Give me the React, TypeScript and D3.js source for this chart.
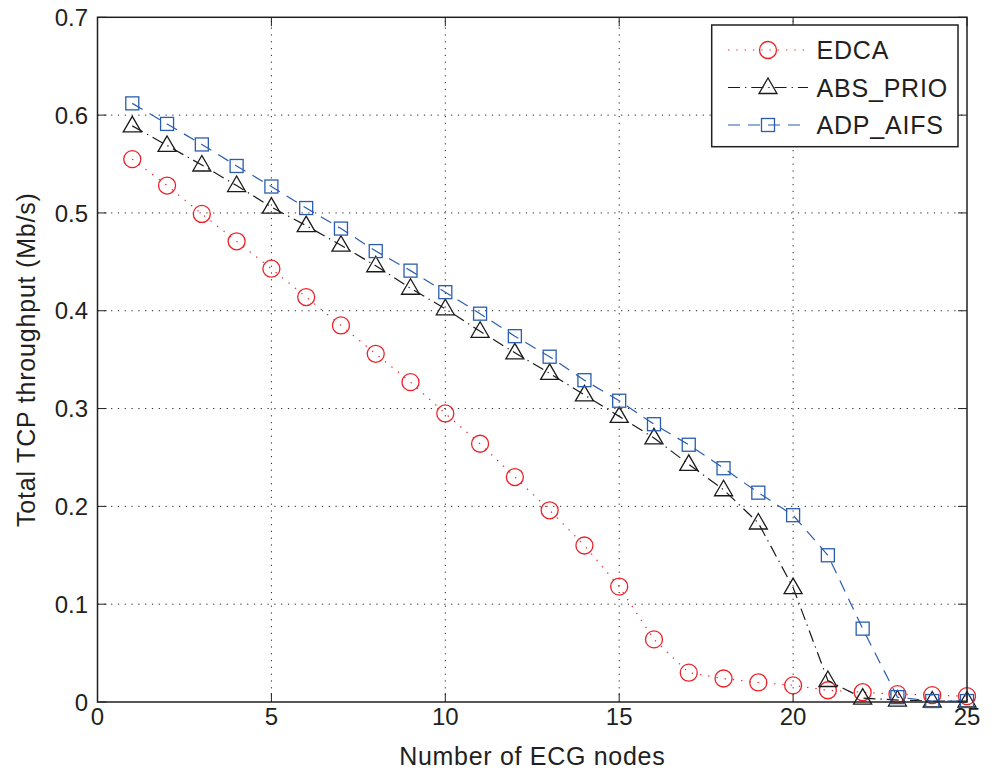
import React from 'react'
import * as d3 from 'd3'

// number of ECG nodes
const nodes = d3.range(1, 26)

const edca = [0.555, 0.528, 0.499, 0.471, 0.443, 0.414, 0.385, 0.356, 0.327, 0.295,
  0.264, 0.230, 0.196, 0.160, 0.118, 0.064, 0.030, 0.024, 0.020, 0.017,
  0.012, 0.010, 0.008, 0.007, 0.006]

const absPrio = [0.589, 0.569, 0.549, 0.528, 0.506, 0.487, 0.467, 0.446, 0.423, 0.402,
  0.379, 0.357, 0.336, 0.314, 0.292, 0.270, 0.243, 0.217, 0.183, 0.117,
  0.022, 0.004, 0.002, 0.001, 0.001]

const adpAifs = [0.612, 0.591, 0.570, 0.548, 0.527, 0.505, 0.484, 0.461, 0.441, 0.419,
  0.397, 0.374, 0.353, 0.329, 0.308, 0.284, 0.263, 0.239, 0.214, 0.191,
  0.150, 0.075, 0.005, 0.001, 0.001]

const xTicks = [0, 5, 10, 15, 20, 25]
const yTicks = [0, 0.1, 0.2, 0.3, 0.4, 0.5, 0.6, 0.7]

const seriesNames = ['EDCA', 'ABS_PRIO', 'ADP_AIFS']

const W = 995
const H = 772
const FONT = 'Liberation Sans, Arial, Helvetica, sans-serif'
const INK = '#231f20'

const x = d3.scaleLinear().domain([0, 25]).range([97.5, 967])
const y = d3.scaleLinear().domain([0, 0.7]).range([702, 17.3])

const series = [
  { name: seriesNames[0], vals: edca, color: '#ec2027', dash: '1.3,7', marker: 'circle' },
  { name: seriesNames[1], vals: absPrio, color: '#1a1a1a', dash: '12,5,1.3,5', marker: 'triangle' },
  { name: seriesNames[2], vals: adpAifs, color: '#2a5db0', dash: '12,8', marker: 'square' },
]

function Marker({ kind, cx, cy, color }) {
  if (kind === 'circle')
    return <circle cx={cx} cy={cy} r={8.5} fill="none" stroke={color} strokeWidth={1.3} />
  if (kind === 'square')
    return <rect x={cx - 6.5} y={cy - 6.5} width={13} height={13} fill="none" stroke={color} strokeWidth={1.3} />
  const p = [[cx, cy - 9.5], [cx - 9, cy + 6], [cx + 9, cy + 6]]
  return <polygon points={p.map(d => d.join(',')).join(' ')} fill="none" stroke={color} strokeWidth={1.3} />
}

export default function App() {
  const [x0, x1] = x.range()
  const [y0, y1] = y.range()
  const line = d3.line().x(d => x(d[0])).y(d => y(d[1]))

  return (
    <svg width={W} height={H} style={{ position: 'absolute', left: 0, top: 0, background: '#fff' }}
      fontFamily={FONT}>
      <rect width={W} height={H} fill="#fff" />

      {/* grid */}
      <g stroke={INK} strokeWidth={1} strokeDasharray="1.2,5.6">
        {xTicks.slice(1, -1).map(t => (
          <line key={'gx' + t} x1={x(t)} x2={x(t)} y1={y0} y2={y1} />
        ))}
        {yTicks.slice(1, -1).map(t => (
          <line key={'gy' + t} x1={x0} x2={x1} y1={y(t)} y2={y(t)} />
        ))}
      </g>

      {/* ticks, inward on all four sides */}
      <g stroke={INK} strokeWidth={1}>
        {xTicks.map(t => (
          <g key={'tx' + t}>
            <line x1={x(t)} x2={x(t)} y1={y0} y2={y0 - 9} />
            <line x1={x(t)} x2={x(t)} y1={y1} y2={y1 + 9} />
          </g>
        ))}
        {yTicks.map(t => (
          <g key={'ty' + t}>
            <line x1={x0} x2={x0 + 9} y1={y(t)} y2={y(t)} />
            <line x1={x1} x2={x1 - 9} y1={y(t)} y2={y(t)} />
          </g>
        ))}
      </g>

      {/* series */}
      {series.map(s => {
        const pts = nodes.map((n, i) => [n, s.vals[i]])
        return (
          <g key={s.name}>
            <path d={line(pts)} fill="none" stroke={s.color} strokeWidth={1.2} strokeDasharray={s.dash} />
            {pts.map(p => (
              <Marker key={p[0]} kind={s.marker} cx={x(p[0])} cy={y(p[1])} color={s.color} />
            ))}
          </g>
        )
      })}

      {/* frame */}
      <rect x={x0} y={y1} width={x1 - x0} height={y0 - y1} fill="none" stroke={INK} strokeWidth={1.5} />

      {/* tick labels */}
      <g fontSize={24} fill={INK}>
        {xTicks.map(t => (
          <text key={'lx' + t} x={x(t)} y={725} textAnchor="middle">{t}</text>
        ))}
        {yTicks.map(t => (
          <text key={'ly' + t} x={88} y={y(t)} dy="0.36em" textAnchor="end">{d3.format('')(t)}</text>
        ))}
      </g>

      {/* axis titles */}
      <text x={(x0 + x1) / 2} y={764.5} textAnchor="middle" fontSize={25} letterSpacing={0.7} fill={INK}>
        Number of ECG nodes
      </text>
      <text transform={`translate(35,${(y0 + y1) / 2}) rotate(-90)`} textAnchor="middle" fontSize={25}
        letterSpacing={0.8} fill={INK}>
        Total TCP throughput (Mb/s)
      </text>

      {/* legend */}
      <g>
        <rect x={711.7} y={25} width={246.3} height={121.7} fill="#fff" stroke={INK} strokeWidth={1.5} />
        {series.map((s, i) => {
          const ly = 50 + i * 37.5
          return (
            <g key={'lg' + s.name}>
              <line x1={728} x2={808} y1={ly} y2={ly} stroke={s.color} strokeWidth={1.2} strokeDasharray={s.dash} />
              <Marker kind={s.marker} cx={768} cy={ly} color={s.color} />
              <text x={816.5} y={ly} dy="0.36em" fontSize={25} letterSpacing={0.8} fill={INK}>{s.name}</text>
            </g>
          )
        })}
      </g>
    </svg>
  )
}
